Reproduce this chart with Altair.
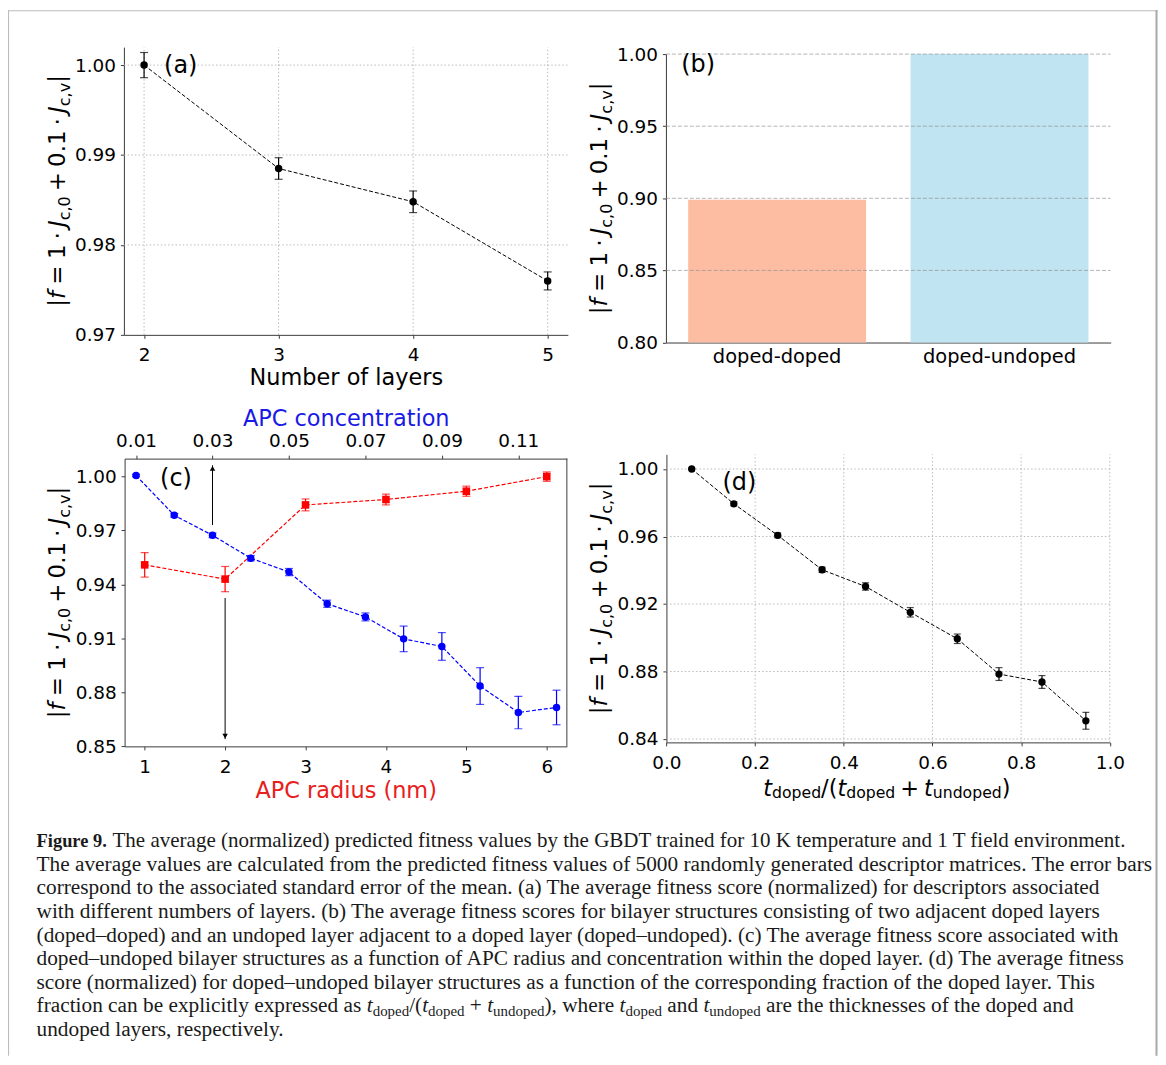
import altair as alt
import pandas as pd

# ---------------- data ----------------
n_layers = [2, 3, 4, 5]
fit_layers = [1.0000, 0.9885, 0.9848, 0.9760]
err_layers = [0.0014, 0.0012, 0.0012, 0.0010]

structures = ["doped-doped", "doped-undoped"]
fit_structures = [0.899, 1.000]
colors_structures = ["#FDBDA3", "#C1E4F2"]

apc_radius = [1, 2, 3, 4, 5, 6]
fit_radius = [0.9508, 0.9429, 0.9841, 0.9871, 0.9917, 0.9998]
err_radius = [0.0068, 0.0070, 0.0033, 0.0030, 0.0028, 0.0026]

apc_conc = [0.01, 0.02, 0.03, 0.04, 0.05, 0.06, 0.07, 0.08, 0.09, 0.10, 0.11, 0.12]
fit_conc = [1.0004, 0.9783, 0.9672, 0.9545, 0.9468, 0.9292, 0.9219, 0.9097, 0.9055, 0.8835, 0.8688, 0.8716]
err_conc = [0.0006, 0.0010, 0.0013, 0.0015, 0.0020, 0.0020, 0.0022, 0.0071, 0.0077, 0.0102, 0.0090, 0.0096]

frac_doped = [0.057, 0.152, 0.251, 0.351, 0.449, 0.550, 0.656, 0.750, 0.847, 0.946]
fit_frac = [1.0000, 0.9794, 0.9607, 0.9403, 0.9304, 0.9151, 0.8994, 0.8785, 0.8738, 0.8508]
err_frac = [0.0003, 0.0012, 0.0014, 0.0016, 0.0022, 0.0028, 0.0028, 0.0038, 0.0038, 0.0050]

arrow_conc = [0.03]
arrow_conc_from = [0.9729]
arrow_conc_to = [1.0061]
arrow_radius = [2]
arrow_radius_from = [0.9324]
arrow_radius_to = [0.854]

ticks_layers = [2, 3, 4, 5]
ticks_fit_a = [0.97, 0.98, 0.99, 1.00]
ticks_fit_b = [0.80, 0.85, 0.90, 0.95, 1.00]
ticks_radius = [1, 2, 3, 4, 5, 6]
ticks_conc = [0.01, 0.03, 0.05, 0.07, 0.09, 0.11]
ticks_fit_c = [0.85, 0.88, 0.91, 0.94, 0.97, 1.00]
ticks_frac = [0.0, 0.2, 0.4, 0.6, 0.8, 1.0]
ticks_fit_d = [0.84, 0.88, 0.92, 0.96, 1.00]

panel_labels = ["(a)", "(b)", "(c)", "(d)"]
title_layers = "Number of layers"
title_radius = "APC radius (nm)"
title_conc = "APC concentration"

caption_bold = "Figure 9."
caption_first = "The average (normalized) predicted fitness values by the GBDT trained for 10 K temperature and 1 T field environment."
caption_lines = [
    "The average values are calculated from the predicted fitness values of 5000 randomly generated descriptor matrices. The error bars",
    "correspond to the associated standard error of the mean. (a) The average fitness score (normalized) for descriptors associated",
    "with different numbers of layers. (b) The average fitness scores for bilayer structures consisting of two adjacent doped layers",
    "(doped\u2013doped) and an undoped layer adjacent to a doped layer (doped\u2013undoped). (c) The average fitness score associated with",
    "doped\u2013undoped bilayer structures as a function of APC radius and concentration within the doped layer. (d) The average fitness",
    "score (normalized) for doped\u2013undoped bilayer structures as a function of the corresponding fraction of the doped layer. This",
]
caption_math_line = [
    ("fraction can be explicitly expressed as ", "n", 0), ("t", "i", 0), ("doped", "n", 1),
    ("/(", "n", 0), ("t", "i", 0), ("doped", "n", 1), (" + ", "n", 0), ("t", "i", 0),
    ("undoped", "n", 1), ("), where ", "n", 0), ("t", "i", 0), ("doped", "n", 1),
    (" and ", "n", 0), ("t", "i", 0), ("undoped", "n", 1),
    (" are the thicknesses of the doped and", "n", 0),
]
caption_last = "undoped layers, respectively."

# ---------------- layout ----------------
W, H = 1155, 1050
OX, OY = 8, 8
SANS = "DejaVu Sans"
SERIF = "Liberation Serif"
SPINE = "#3a3a3a"
GRID = "#b3b3b3"


def px(v):
    return v - OX


def py(v):
    return v - OY


# plot-area geometry (page pixels)
A_X, A_Y = (124.4, 570.3), (334.0, 45.0)
B_X, B_Y = (668.8, 1115.5), (341.7, 52.0)
C_X, C_Y = (125.1, 569.3), (747.3, 458.3)
D_X, D_Y = (669.3, 1114.6), (743.3, 454.0)

A_XDOM, A_YDOM = [1.85, 5.15], [0.97, 1.002]
B_YDOM = [0.80, 1.00]
C_RDOM, C_CDOM, C_YDOM = [0.75, 6.25], [0.007, 0.1227], [0.85, 1.0098]
D_XDOM, D_YDOM = [0.0, 1.0], [0.838, 1.0087]


def lin(dom, rng):
    return alt.Scale(domain=dom, range=rng, nice=False, zero=False)


sa_x = lin(A_XDOM, [px(A_X[0]), px(A_X[1])])
sa_y = lin(A_YDOM, [py(A_Y[0]), py(A_Y[1])])
sb_x = alt.Scale(domain=structures, range=[px(B_X[0]), px(B_X[1])], paddingInner=0.2, paddingOuter=0.1)
sb_y = lin(B_YDOM, [py(B_Y[0]), py(B_Y[1])])
sc_r = lin(C_RDOM, [px(C_X[0]), px(C_X[1])])
sc_c = lin(C_CDOM, [px(C_X[0]), px(C_X[1])])
sc_y = lin(C_YDOM, [py(C_Y[0]), py(C_Y[1])])
sd_x = lin(D_XDOM, [px(D_X[0]), px(D_X[1])])
sd_y = lin(D_YDOM, [py(D_Y[0]), py(D_Y[1])])


def axis(orient, values, fmt, offset, **kw):
    base = dict(orient=orient, values=values, offset=offset, grid=False,
                labelFont=SANS, labelFontSize=18.5, labelColor="black", tickSize=3.5,
                tickColor=SPINE, domainColor=SPINE, tickWidth=1, domainWidth=1,
                labelPadding=5, labelAngle=0, titleFont=SANS, titleFontSize=22.5,
                titleFontWeight="normal", titleColor="black", titleBaseline="alphabetic")
    if fmt:
        base["format"] = fmt
    base.update(kw)
    if "title" not in base:
        base["title"] = None
    return alt.Axis(**base)


ax_a_x = axis("bottom", ticks_layers, "d", py(A_Y[0]) - H, title=title_layers, titleY=50, labelPadding=7.5)
ax_a_y = axis("left", ticks_fit_a, ".2f", -px(A_X[0]))
ax_b_x = axis("bottom", structures, None, py(B_Y[0]) - H, ticks=False, labelPadding=4.7, labelFontSize=19.5)
ax_b_y = axis("left", ticks_fit_b, ".2f", -px(B_X[0]))
ax_c_r = axis("bottom", ticks_radius, "d", py(C_Y[0]) - H, title=title_radius, titleY=50.9,
              titleColor="#E8201C", labelPadding=7.5)
ax_c_c = axis("top", ticks_conc, ".2f", -py(C_Y[1]), title=title_conc, titleY=-32.8,
              titleColor="#1A1AE6", labelPadding=4.9)
ax_c_y = axis("left", ticks_fit_c, ".2f", -px(C_X[0]))
ax_d_x = axis("bottom", ticks_frac, ".1f", py(D_Y[0]) - H, labelPadding=7.5)
ax_d_y = axis("left", ticks_fit_d, ".2f", -px(D_X[0]))


def err_series(xs, ys, es, xscale, yscale, color, shape, size, dash, xaxis, yaxis, sw=1.1, cap=8):
    df = pd.DataFrame({"xv": xs, "fit": ys, "err": es})
    base = alt.Chart(df).transform_calculate(lo="datum.fit - datum.err", hi="datum.fit + datum.err")
    X = alt.X("xv:Q", scale=xscale, axis=xaxis)
    line = base.mark_line(color=color, strokeWidth=sw, strokeDash=dash).encode(
        x=X, y=alt.Y("fit:Q", scale=yscale, axis=yaxis))
    bars = base.mark_rule(color=color, strokeWidth=1.2).encode(
        x=X, y=alt.Y("lo:Q", scale=yscale, axis=yaxis), y2="hi:Q")
    caps = [base.mark_tick(orient="horizontal", color=color, size=cap, thickness=1.2).encode(
        x=X, y=alt.Y(f"{f}:Q", scale=yscale, axis=yaxis)) for f in ("lo", "hi")]
    pts = base.mark_point(filled=True, shape=shape, size=size, color=color, opacity=1).encode(
        x=X, y=alt.Y("fit:Q", scale=yscale, axis=yaxis))
    return [line, bars] + caps + [pts]


def hgrid(values, xdom, xscale, yscale, xaxis, yaxis, dash, color=GRID, width=0.9):
    df = pd.DataFrame({"v": values, "x0": [xdom[0]] * len(values), "x1": [xdom[1]] * len(values)})
    return alt.Chart(df).mark_rule(strokeDash=dash, color=color, strokeWidth=width).encode(
        y=alt.Y("v:Q", scale=yscale, axis=yaxis),
        x=alt.X("x0:Q", scale=xscale, axis=xaxis), x2="x1:Q")


def vgrid(values, ydom, xscale, yscale, xaxis, yaxis, dash, color=GRID, width=0.9):
    df = pd.DataFrame({"v": values, "y0": [ydom[0]] * len(values), "y1": [ydom[1]] * len(values)})
    return alt.Chart(df).mark_rule(strokeDash=dash, color=color, strokeWidth=width).encode(
        x=alt.X("v:Q", scale=xscale, axis=xaxis),
        y=alt.Y("y0:Q", scale=yscale, axis=yaxis), y2="y1:Q")


DOT = [1.5, 2.2]

# ---- panel (a)
panel_a = alt.layer(
    hgrid(ticks_fit_a[1:], A_XDOM, sa_x, sa_y, ax_a_x, ax_a_y, DOT),
    vgrid(ticks_layers, A_YDOM, sa_x, sa_y, ax_a_x, ax_a_y, DOT),
    *err_series(n_layers, fit_layers, err_layers, sa_x, sa_y, "black", "circle", 56, [4, 2],
                ax_a_x, ax_a_y, sw=1.0, cap=8),
)

# ---- panel (b)
df_b = pd.DataFrame({"structure": structures, "fit": fit_structures, "base": [B_YDOM[0]] * 2})
bars_b = alt.Chart(df_b).mark_bar().encode(
    x=alt.X("structure:N", scale=sb_x, axis=ax_b_x, sort=structures),
    y=alt.Y("fit:Q", scale=sb_y, axis=ax_b_y),
    y2="base:Q",
    color=alt.Color("structure:N", scale=alt.Scale(domain=structures, range=colors_structures), legend=None),
)
grid_b = alt.Chart(pd.DataFrame({"v": ticks_fit_b[1:]})).mark_rule(
    strokeDash=[4, 2], color="#8a8a8a", strokeWidth=0.8, opacity=0.8).encode(
    y=alt.Y("v:Q", scale=sb_y, axis=ax_b_y),
    x=alt.value(px(B_X[0])), x2=alt.value(px(B_X[1])))
panel_b = alt.layer(bars_b, grid_b)

# ---- panel (c)
red_layers = err_series(apc_radius, fit_radius, err_radius, sc_r, sc_y, "#FF0000", "square", 58,
                        [4, 2], ax_c_r, ax_c_y, sw=1.2, cap=8)
df_rs = pd.DataFrame({"x": [C_RDOM[1]], "y0": [C_YDOM[0]], "y1": [C_YDOM[1]]})
right_spine = alt.Chart(df_rs).mark_rule(color=SPINE, strokeWidth=1).encode(
    x=alt.X("x:Q", scale=sc_r, axis=ax_c_r), y=alt.Y("y0:Q", scale=sc_y, axis=ax_c_y), y2="y1:Q")
df_ar = pd.DataFrame({"x": arrow_radius, "y0": arrow_radius_from, "y1": arrow_radius_to})
arr_r_line = alt.Chart(df_ar).mark_rule(color="black", strokeWidth=1).encode(
    x=alt.X("x:Q", scale=sc_r, axis=ax_c_r), y=alt.Y("y0:Q", scale=sc_y, axis=ax_c_y), y2="y1:Q")
arr_r_head = alt.Chart(df_ar).mark_point(shape="triangle-down", filled=True, size=30, color="black",
                                         opacity=1, yOffset=-3).encode(
    x=alt.X("x:Q", scale=sc_r, axis=ax_c_r), y=alt.Y("y1:Q", scale=sc_y, axis=ax_c_y))
red_group = alt.layer(*red_layers, right_spine, arr_r_line, arr_r_head)

blue_layers = err_series(apc_conc, fit_conc, err_conc, sc_c, sc_y, "#0000FF", "circle", 56,
                         [4, 2], ax_c_c, ax_c_y, sw=1.2, cap=8)
df_ac = pd.DataFrame({"x": arrow_conc, "y0": arrow_conc_from, "y1": arrow_conc_to})
arr_c_line = alt.Chart(df_ac).mark_rule(color="black", strokeWidth=1).encode(
    x=alt.X("x:Q", scale=sc_c, axis=ax_c_c), y=alt.Y("y0:Q", scale=sc_y, axis=ax_c_y), y2="y1:Q")
arr_c_head = alt.Chart(df_ac).mark_point(shape="triangle-up", filled=True, size=30, color="black",
                                         opacity=1, yOffset=3).encode(
    x=alt.X("x:Q", scale=sc_c, axis=ax_c_c), y=alt.Y("y1:Q", scale=sc_y, axis=ax_c_y))
blue_group = alt.layer(*blue_layers, arr_c_line, arr_c_head)

panel_c = alt.layer(red_group, blue_group).resolve_scale(x="independent")

# ---- panel (d)
panel_d = alt.layer(
    hgrid(ticks_fit_d, D_XDOM, sd_x, sd_y, ax_d_x, ax_d_y, DOT),
    vgrid(ticks_frac[1:], D_YDOM, sd_x, sd_y, ax_d_x, ax_d_y, DOT),
    *err_series(frac_doped, fit_frac, err_frac, sd_x, sd_y, "black", "circle", 54, [4, 2],
                ax_d_x, ax_d_y, sw=1.0, cap=7),
)

# ---------------- text: glyph runs ----------------
DV = {" ": 0.318, "|": 0.337, "=": 0.838, "+": 0.838, "0": 0.636, "1": 0.636, ".": 0.318,
      ",": 0.318, "\u22c5": 0.318, "f": 0.352, "J": 0.295, "c": 0.55, "v": 0.592, "t": 0.392,
      "d": 0.635, "o": 0.612, "p": 0.635, "e": 0.615, "u": 0.634, "n": 0.634, "/": 0.337,
      "(": 0.39, ")": 0.39}

ytitle_tokens = [("|", "n", 0), ("f", "i", 0), 0.278, ("=", "n", 0), 0.278, ("1", "n", 0), 0.222,
                 ("\u22c5", "n", 0), 0.222, ("J", "i", 0), ("c,0", "n", 1), 0.222, ("+", "n", 0),
                 0.222, ("0.1", "n", 0), 0.222, ("\u22c5", "n", 0), 0.222, ("J", "i", 0),
                 ("c,v", "n", 1), ("|", "n", 0)]
xtitle_tokens = [("t", "i", 0), ("doped", "n", 1), ("/(", "n", 0), ("t", "i", 0), ("doped", "n", 1),
                 0.222, ("+", "n", 0), 0.222, ("t", "i", 0), ("undoped", "n", 1), (")", "n", 0)]


def run(tokens, F, sub=0.7):
    pos, out = 0.0, []
    for tok in tokens:
        if isinstance(tok, float):
            pos += tok * F
            continue
        text, style, s = tok
        size = F * sub if s else F
        out.append(dict(t=text, style=style, sub=s, fs=size, at=pos))
        pos += sum(DV[ch] for ch in text) * size
    return out, pos


glyphs_rot, glyphs_hor = [], []
TF = 23.0
for bx, cy in [(64.8, 189.5), (609.2, 196.9), (65.5, 602.8), (609.7, 598.7)]:
    g, L = run(ytitle_tokens, TF)
    for r in g:
        glyphs_rot.append(dict(t=r["t"], style=r["style"], fs=r["fs"],
                               px=px(bx) + (0.22 * TF if r["sub"] else 0),
                               py=py(cy) + L / 2 - r["at"]))
g, L = run(xtitle_tokens, 22.5)
for r in g:
    glyphs_hor.append(dict(t=r["t"], style=r["style"], fs=r["fs"],
                           px=px(890.7) - L / 2 + r["at"],
                           py=py(796.7) + (0.12 * 22.5 if r["sub"] else 0)))


def text_layer(rows, style, font, angle=0, weight="normal", color="black"):
    rows = [r for r in rows if r["style"] == style]
    if not rows:
        return None
    kw = dict(align="left", baseline="alphabetic", font=font, color=color, angle=angle,
              fontWeight=weight)
    if style == "i":
        kw["fontStyle"] = "italic"
    return alt.Chart(pd.DataFrame(rows)).mark_text(**kw).encode(
        x=alt.X("px:Q", scale=None, axis=None), y=alt.Y("py:Q", scale=None, axis=None),
        text="t:N", size=alt.Size("fs:Q", scale=None, legend=None))


# panel letters
df_lab = pd.DataFrame({"t": panel_labels,
                       "px": [px(181.5), px(701.2), px(176.7), px(742.5)],
                       "py": [py(64.3), py(63.3), py(479.0), py(483.3)]})
labels = alt.Chart(df_lab).mark_text(font=SANS, fontSize=24, color="black", align="center",
                                     baseline="middle").encode(
    x=alt.X("px:Q", scale=None, axis=None), y=alt.Y("py:Q", scale=None, axis=None), text="t:N")

# ---------------- caption ----------------
TIMES = {" ": 250, "a": 444, "b": 500, "c": 444, "d": 500, "e": 444, "f": 333, "g": 500, "h": 500,
         "i": 278, "k": 500, "l": 278, "n": 500, "o": 500, "p": 500, "r": 333, "s": 389, "t": 278,
         "u": 500, "w": 722, "x": 500, "y": 500, ",": 250, "(": 333, ")": 333, "/": 278, "+": 564}
CF = 21.4
CAP_X = px(36.7)
CAP_Y0 = py(848.3)
CAP_DY = 23.75
cap_rows = []
cap_rows.append(dict(t=caption_bold, style="b", fs=18.5, px=CAP_X, py=CAP_Y0))
cap_rows.append(dict(t=caption_first, style="n", fs=21.1, px=px(113.0), py=CAP_Y0))
for i, line in enumerate(caption_lines):
    cap_rows.append(dict(t=line, style="n", fs=CF, px=CAP_X, py=CAP_Y0 + CAP_DY * (i + 1)))
y8 = CAP_Y0 + CAP_DY * 7
cur = CAP_X
for text, style, s in caption_math_line:
    size = CF * 0.7 if s else CF
    lead = len(text) - len(text.lstrip(" "))
    cap_rows.append(dict(t=text.strip(" "), style=style, fs=size,
                         px=cur + lead * 0.25 * size, py=y8 + (0.17 * CF if s else 0)))
    cur += sum(TIMES.get(ch, 500) for ch in text) / 1000 * size
cap_rows.append(dict(t=caption_last, style="n", fs=CF, px=CAP_X, py=CAP_Y0 + CAP_DY * 8))

# ---------------- frame ----------------
df_frame = pd.DataFrame({"x": [0, 0.5], "x2": [W, 0.5], "y": [0.5, 0], "y2": [0.5, H]})
frame = alt.Chart(df_frame).mark_rule(color="#bdbdbd", strokeWidth=1.2).encode(
    x=alt.X("x:Q", scale=None, axis=None), x2="x2:Q",
    y=alt.Y("y:Q", scale=None, axis=None), y2="y2:Q")
df_frame_r = pd.DataFrame({"x": [W - 1.5], "y": [0], "y2": [H]})
frame_r = alt.Chart(df_frame_r).mark_rule(color="#a8a8a8", strokeWidth=2).encode(
    x=alt.X("x:Q", scale=None, axis=None),
    y=alt.Y("y:Q", scale=None, axis=None), y2="y2:Q")

text_layers = [
    text_layer(glyphs_rot, "n", SANS, angle=270),
    text_layer(glyphs_rot, "i", SANS, angle=270),
    text_layer(glyphs_hor, "n", SANS),
    text_layer(glyphs_hor, "i", SANS),
    text_layer(cap_rows, "n", SERIF, color="#1a1a1a"),
    text_layer(cap_rows, "i", SERIF, color="#1a1a1a"),
    text_layer(cap_rows, "b", SERIF, weight="bold", color="#1a1a1a"),
]
text_layers = [t for t in text_layers if t is not None]

chart = alt.layer(
    frame, frame_r, panel_a, panel_b, panel_c, panel_d, labels, *text_layers
).resolve_scale(x="independent", y="independent").properties(
    width=W, height=H, autosize=alt.AutoSizeParams(type="none"), padding=0
).configure_view(stroke=None).configure_axis(labelFlush=False, labelOverlap=False)

chart.save("out.html", embed_options={"renderer": "svg", "actions": False})
